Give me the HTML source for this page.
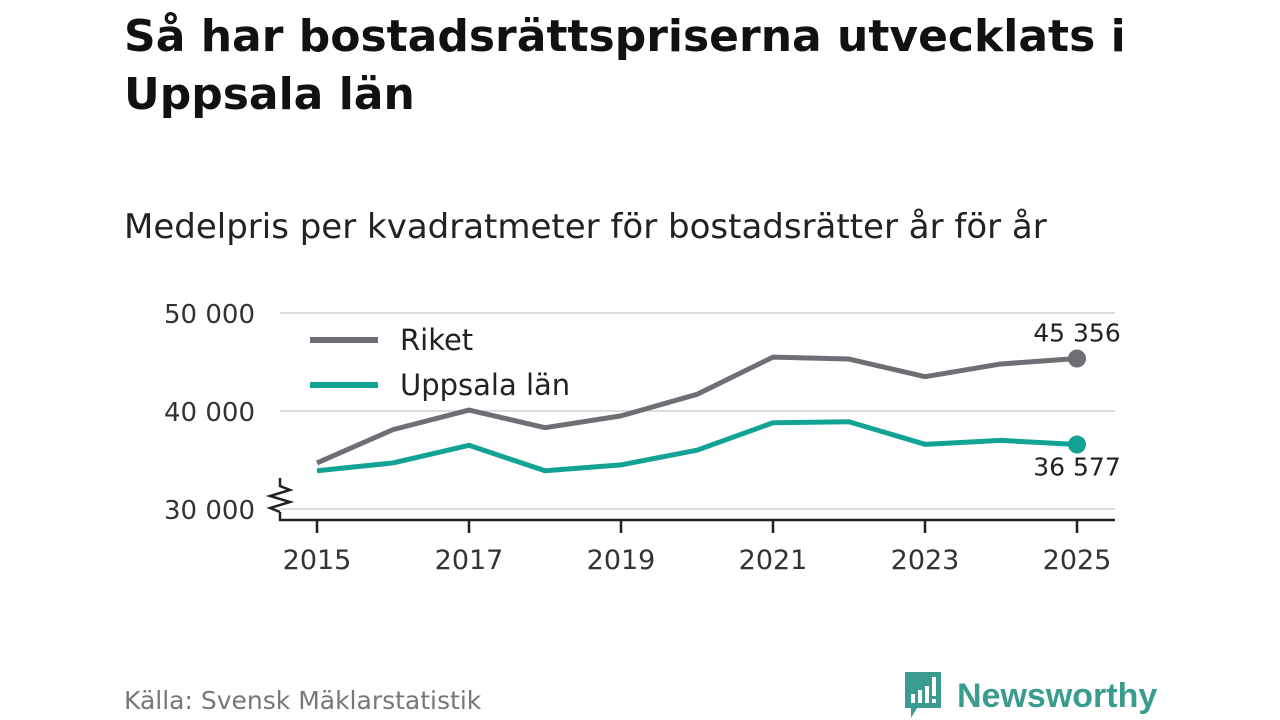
<!DOCTYPE html>
<html><head><meta charset="utf-8">
<style>
body{margin:0;width:1280px;height:720px;background:#fff;font-family:"DejaVu Sans","Liberation Sans",sans-serif;overflow:hidden;position:relative}
h1{position:absolute;left:124px;top:8px;margin:0;font-size:44px;line-height:58px;font-weight:bold;color:#111;width:1100px}
.sub{position:absolute;left:124px;top:207px;font-size:34px;color:#222}
.src{position:absolute;left:124px;top:686px;font-size:25px;color:#777}
</style></head><body>
<h1>Så har bostadsrättspriserna utvecklats i Uppsala län</h1>
<div class="sub">Medelpris per kvadratmeter för bostadsrätter år för år</div>
<svg id="chart" width="1280" height="720" style="position:absolute;left:0;top:0;font-family:'DejaVu Sans','Liberation Sans',sans-serif"></svg>
<div class="src">Källa: Svensk Mäklarstatistik</div>
<div style="position:absolute;left:903px;top:672px;display:flex;align-items:center">
<svg width="40" height="48" viewBox="0 0 40 48"><path d="M2 0h36v36h-24l-6 10v-10h-6z" fill="#3a9c8e"/><rect x="8" y="22" width="4" height="9" fill="#fff"/><rect x="15" y="18" width="4" height="13" fill="#fff"/><rect x="22" y="14" width="4" height="17" fill="#fff"/><rect x="29" y="5" width="4" height="19" fill="#fff"/><rect x="29" y="27" width="4" height="4" fill="#fff"/></svg>
<span style="font-family:'Liberation Sans',sans-serif;font-size:34px;font-weight:bold;color:#3a9c8e;margin-left:14px">Newsworthy</span></div>
<script>
const years=[2015,2016,2017,2018,2019,2020,2021,2022,2023,2024,2025];
const riket=[34700,38100,40100,38300,39500,41700,45500,45300,43500,44800,45356];
const uppsala=[33900,34700,36500,33900,34500,36000,38800,38900,36600,37000,36577];
const yTicks=[30000,40000,50000];
const xTicks=[2015,2017,2019,2021,2023,2025];
const svg=document.getElementById('chart');const NS='http://www.w3.org/2000/svg';
const x=v=>317+(v-2015)*76;const y=v=>509-(v-30000)*0.0098;
function el(t,a){const e=document.createElementNS(NS,t);for(const k in a)e.setAttribute(k,a[k]);svg.appendChild(e);return e;}
const fmt=v=>String(v).replace(/\B(?=(\d{3})+(?!\d))/g,' ');
yTicks.forEach(t=>{const g=el('line',{x1:280,x2:1115,y1:y(t),y2:y(t),stroke:'#ddd','stroke-width':2});

const tx=el('text',{x:255,y:y(t)+10,'text-anchor':'end','font-size':26,fill:'#333'});tx.textContent=fmt(t);
});
const ax=el('path',{d:'M280 512V520H1115',fill:'none',stroke:'#222','stroke-width':2.5});

const zz=el('path',{d:'M280 478V486L290 490L270 496L290 502L270 508L280 512',fill:'none',stroke:'#222','stroke-width':2.5});

xTicks.forEach(t=>{const l=el('line',{x1:x(t),x2:x(t),y1:520,y2:533,stroke:'#222','stroke-width':2.5});

const tx=el('text',{x:x(t),y:569,'text-anchor':'middle','font-size':27,fill:'#333'});tx.textContent=t;
});
const lg=el('rect',{x:282,y:314,width:300,height:95,fill:'#fff'});

function series(d,c,name){const p=el('polyline',{points:d.map((v,i)=>x(years[i])+','+y(v)).join(' '),fill:'none',stroke:c,'stroke-width':5,'stroke-linejoin':'round'});

const n=d.length-1;const dot=el('circle',{cx:x(years[n]),cy:y(d[n]),r:9,fill:c});
}
series(riket,'#6f6e75','riket');series(uppsala,'#12a394','uppsala');
const l1=el('text',{x:1077,y:y(riket[10])-17,'text-anchor':'middle','font-size':25,fill:'#222'});l1.textContent=fmt(riket[10]);

const l2=el('text',{x:1077,y:y(uppsala[10])+31,'text-anchor':'middle','font-size':25,fill:'#222'});l2.textContent=fmt(uppsala[10]);

[['Riket','#6f6e75',340],['Uppsala län','#12a394',385]].forEach(([t,c,yy])=>{
const ln=el('line',{x1:310,x2:378,y1:yy,y2:yy,stroke:c,'stroke-width':6});

const tx=el('text',{x:400,y:yy+10,'font-size':29,fill:'#222'});tx.textContent=t;
});
</script>
</body></html>
